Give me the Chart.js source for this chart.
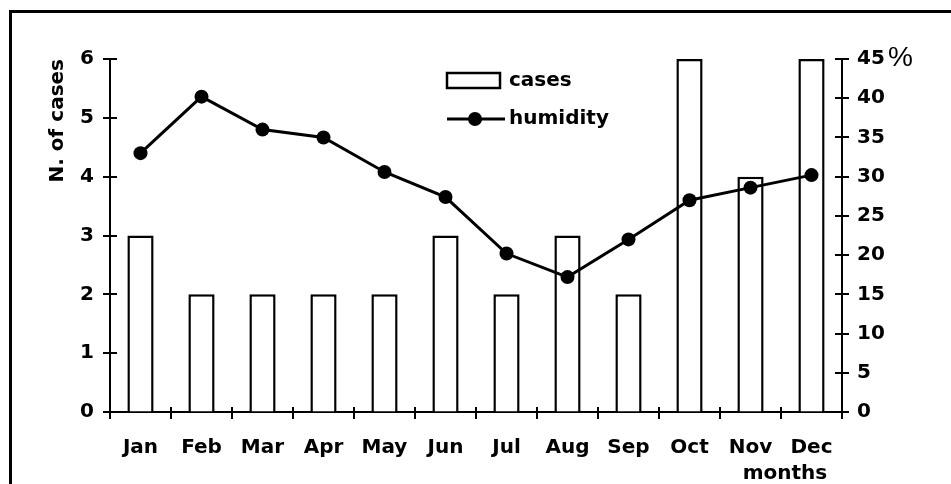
<!DOCTYPE html>
<html>
<head>
<meta charset="utf-8">
<script src="https://cdn.jsdelivr.net/npm/chart.js@4.4.1/dist/chart.umd.min.js"></script>
<style>
html,body{margin:0;padding:0;background:#ffffff;}
#wrap{width:951px;height:484px;position:relative;}
</style>
</head>
<body>
<div id="wrap"><canvas id="c" width="951" height="484"></canvas></div>
<script>
// ---- data ----
const months = ['Jan','Feb','Mar','Apr','May','Jun','Jul','Aug','Sep','Oct','Nov','Dec'];
const cases = [3, 2, 2, 2, 2, 3, 2, 3, 2, 6, 4, 6];
const humidity = [33, 40.2, 36, 35, 30.6, 27.4, 20.2, 17.2, 22, 27, 28.6, 30.2];
const casesRange = [0, 6];
const casesStep = 1;
const humidityRange = [0, 45];
const humidityStep = 5;
const casesLabel = 'cases';
const humidityLabel = 'humidity';
const yTitle = 'N. of cases';
const y2Title = '%';
const xTitle = 'months';

const FONT = '"DejaVu Sans", "Liberation Sans", Arial, sans-serif';
const tickFont = {family: FONT, size: 20, weight: 'bold'};

// frame + cross ticks + legend + extra titles
const decor = {
  id: 'decor',
  beforeDraw(chart) {
    const ctx = chart.ctx;
    ctx.save();
    ctx.fillStyle = '#fff';
    ctx.fillRect(0, 0, chart.width, chart.height);
    ctx.strokeStyle = '#000';
    ctx.lineWidth = 3;
    ctx.beginPath();
    ctx.moveTo(10.5, chart.height);
    ctx.lineTo(10.5, 11.5);
    ctx.lineTo(chart.width, 11.5);
    ctx.stroke();
    ctx.restore();
  },
  afterDraw(chart) {
    const ctx = chart.ctx;
    const xs = chart.scales.x, y = chart.scales.y, y2 = chart.scales.y2;
    const ca = chart.chartArea;
    ctx.save();
    ctx.strokeStyle = '#000';
    ctx.lineWidth = 2;
    ctx.beginPath();
    // y ticks crossing the axis
    y.ticks.forEach(t => {
      const py = Math.round(y.getPixelForValue(t.value));
      ctx.moveTo(ca.left - 7, py); ctx.lineTo(ca.left + 7, py);
    });
    y2.ticks.forEach(t => {
      const py = Math.round(y2.getPixelForValue(t.value));
      ctx.moveTo(ca.right - 7, py); ctx.lineTo(ca.right + 7, py);
    });
    // x ticks at category boundaries
    const half = (xs.getPixelForValue(1) - xs.getPixelForValue(0)) / 2;
    for (let i = 0; i <= months.length; i++) {
      const px = Math.round(xs.getPixelForValue(i) - half);
      ctx.moveTo(px, ca.bottom - 5); ctx.lineTo(px, ca.bottom + 7);
    }
    ctx.stroke();

    // legend
    const lx = 447, ly = 73;
    ctx.lineWidth = 2.5;
    ctx.fillStyle = '#fff';
    ctx.fillRect(lx, ly, 53, 15);
    ctx.strokeRect(lx, ly, 53, 15);
    ctx.lineWidth = 3;
    ctx.beginPath();
    ctx.moveTo(lx, 119); ctx.lineTo(lx + 58, 119);
    ctx.stroke();
    ctx.fillStyle = '#000';
    ctx.beginPath();
    ctx.arc(lx + 28, 119, 7, 0, Math.PI * 2);
    ctx.fill();
    ctx.font = 'bold 20px ' + FONT;
    ctx.textBaseline = 'middle';
    ctx.textAlign = 'left';
    ctx.fillText(casesLabel, 509, 81);
    ctx.fillText(humidityLabel, 509, 119);

    // right axis title and x title
    ctx.font = '28px "Liberation Sans", Arial, sans-serif';
    ctx.textBaseline = 'middle';
    ctx.fillText(y2Title, 888, 58);
    ctx.font = 'bold 20px ' + FONT;
    ctx.textAlign = 'center';
    ctx.fillText(xTitle, 785, 474);
    ctx.restore();
  }
};

new Chart(document.getElementById('c'), {
  data: {
    labels: months,
    datasets: [
      {
        type: 'line',
        label: humidityLabel,
        data: humidity,
        yAxisID: 'y2',
        borderColor: '#000',
        borderWidth: 3,
        backgroundColor: '#000',
        pointRadius: 7,
        pointBackgroundColor: '#000',
        pointBorderWidth: 0,
        tension: 0,
        order: 0
      },
      {
        type: 'bar',
        label: casesLabel,
        data: cases,
        yAxisID: 'y',
        backgroundColor: '#fff',
        borderColor: '#000',
        borderWidth: 2.5,
        barPercentage: 0.43,
        categoryPercentage: 1.0,
        order: 1
      }
    ]
  },
  options: {
    responsive: false,
    animation: false,
    devicePixelRatio: 1,
    layout: {padding: {top: 59, left: 0, right: 0, bottom: 0}},
    plugins: {legend: {display: false}, tooltip: {enabled: false}},
    scales: {
      x: {
        type: 'category',
        offset: true,
        grid: {display: true, drawOnChartArea: false, drawTicks: false, color: 'rgba(0,0,0,0)'},
        border: {display: true, color: '#000', width: 2},
        ticks: {color: '#000', font: tickFont, padding: 24, maxRotation: 0, autoSkip: false},
        afterFit(s) { s.height = 72; }
      },
      y: {
        position: 'left',
        min: casesRange[0], max: casesRange[1],
        grid: {display: true, drawOnChartArea: false, drawTicks: false, color: 'rgba(0,0,0,0)'},
        border: {display: true, color: '#000', width: 2},
        ticks: {stepSize: casesStep, color: '#000', font: tickFont, padding: 16},
        title: {display: true, text: yTitle, align: 'end', color: '#000', font: tickFont, padding: {top: 46, bottom: 0}},
        afterFit(s) { s.width = 110; }
      },
      y2: {
        position: 'right',
        min: humidityRange[0], max: humidityRange[1],
        grid: {display: true, drawOnChartArea: false, drawTicks: false, color: 'rgba(0,0,0,0)'},
        border: {display: true, color: '#000', width: 2},
        ticks: {stepSize: humidityStep, color: '#000', font: tickFont, padding: 15},
        afterFit(s) { s.width = 109; }
      }
    }
  },
  plugins: [decor]
});
</script>
</body>
</html>
